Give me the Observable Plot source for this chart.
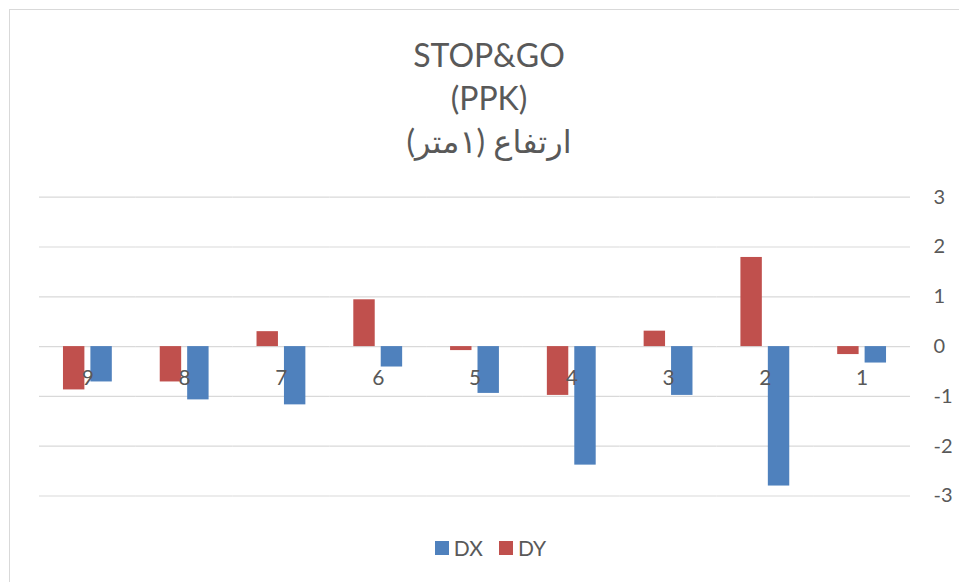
<!DOCTYPE html>
<html>
<head>
<meta charset="utf-8">
<script src="https://cdn.jsdelivr.net/npm/d3@7"></script>
<script src="https://cdn.jsdelivr.net/npm/@observablehq/plot@0.6"></script>
<style>
  html, body { margin: 0; padding: 0; background: #fff; }
  #wrap { position: relative; width: 959px; height: 582px; overflow: hidden; font-family: Lato, "DejaVu Sans", sans-serif; color: #595959; }
  #border { position: absolute; left: 9px; top: 9px; width: 1000px; height: 1000px; border-top: 1.5px solid #d9d9d9; border-left: 1.5px solid #d9d9d9; }
  #title { position: absolute; left: 0; top: 33px; width: 978px; text-align: center; font-size: 32px; line-height: 43px; }
  #chart { position: absolute; left: 0; top: 170px; }
  #legend { position: absolute; top: 535px; left: 0; width: 981px; display: flex; justify-content: center; gap: 16px; font-size: 21px; }
  .item { display: flex; align-items: center; gap: 5px; }
  .sw { width: 14px; height: 14px; display: inline-block; }
</style>
</head>
<body>
<div id="wrap">
  <div id="border"></div>
  <div id="title"></div>
  <div id="chart"></div>
  <div id="legend"></div>
</div>
<script>
const titleLines = ["STOP&GO", "(PPK)", "ارتفاع (۱متر)"];
const categories = ["1", "2", "3", "4", "5", "6", "7", "8", "9"];
const dxValues = [-0.33, -2.80, -0.98, -2.38, -0.94, -0.41, -1.17, -1.07, -0.71];
const dyValues = [-0.16, 1.79, 0.31, -0.98, -0.08, 0.94, 0.30, -0.71, -0.87];
const seriesNames = ["DX", "DY"];
const seriesColors = ["#4F81BD", "#C0504D"];
const yTicks = [-3, -2, -1, 0, 1, 2, 3];

const rows = [];
categories.forEach((c, i) => {
  rows.push({cat: c, series: "DX", value: dxValues[i]});
  rows.push({cat: c, series: "DY", value: dyValues[i]});
});

document.getElementById("title").innerHTML = titleLines.map((t, i) =>
  `<div ${i === 2 ? 'dir="rtl"' : ''}>${t.replace(/&/g, "&amp;")}</div>`).join("");

const chart = Plot.plot({
  width: 959,
  height: 350,
  marginLeft: 39,
  marginRight: 49,
  marginTop: 26.7,
  marginBottom: 24.5,
  style: {fontFamily: 'Lato, "DejaVu Sans", sans-serif', fontSize: "20px", color: "#595959", background: "transparent"},
  fx: {domain: categories.slice().reverse(), padding: 0, round: false, axis: null},
  x: {domain: ["DY", "DX"], paddingInner: 0.219, paddingOuter: 0.874, round: false, axis: null},
  y: {domain: [-3, 3], axis: null},
  color: {domain: seriesNames, range: seriesColors},
  marks: [
    Plot.ruleY(yTicks, {stroke: "#d9d9d9", strokeWidth: 1.2}),
    Plot.barY(rows, {fx: "cat", x: "series", y: "value", fill: "series"}),
    Plot.text(categories, {fx: d => d, y: 0, text: d => d, dy: 32, fill: "#595959", fontSize: 21}),
    Plot.axisY({anchor: "right", ticks: yTicks, tickSize: 0, tickPadding: 23, textAnchor: "start", fill: "#595959", fontSize: 20, label: null, tickFormat: d => String(d)})
  ]
});
document.getElementById("chart").appendChild(chart);

document.getElementById("legend").innerHTML = seriesNames.map((s, i) =>
  `<span class="item"><span class="sw" style="background:${seriesColors[i]}"></span>${s}</span>`).join("");
</script>
</body>
</html>
